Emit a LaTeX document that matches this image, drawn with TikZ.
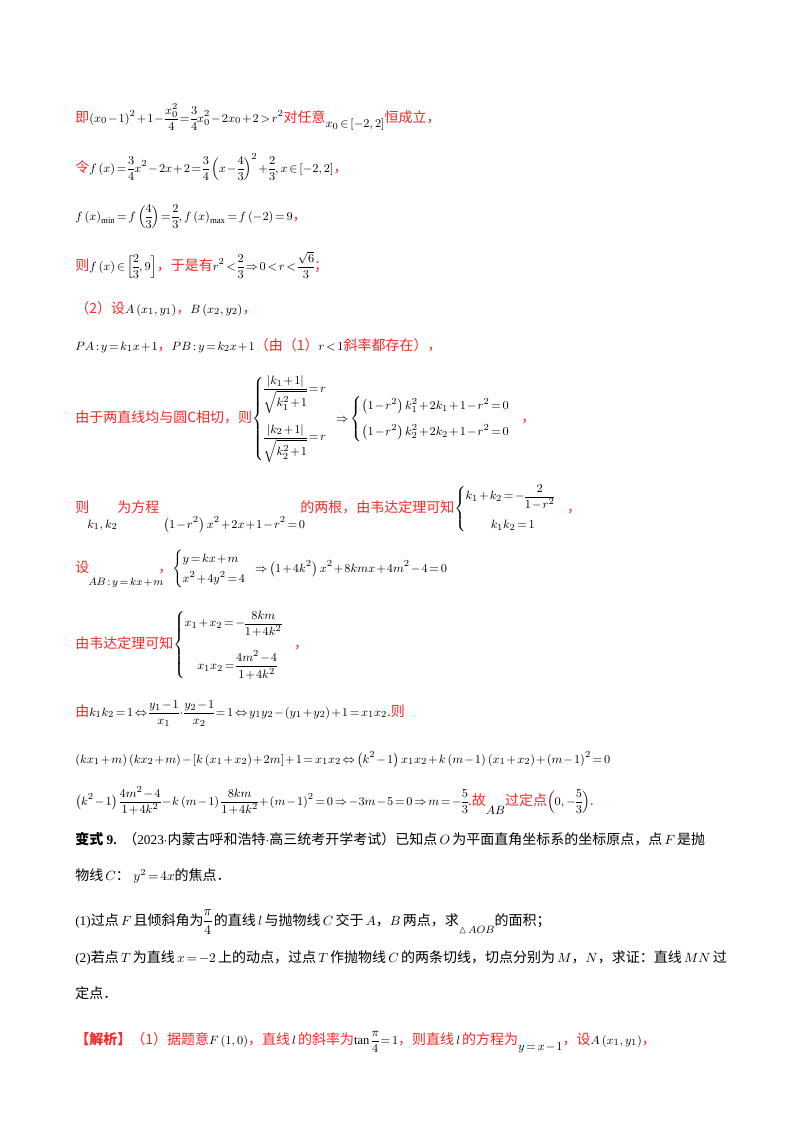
\documentclass[tikz,border=0pt]{standalone}
\usepackage{amsmath,amssymb}
\usepackage{fontspec}
\setmainfont{Liberation Serif}
\newfontfamily\cjk{Noto Sans CJK SC}
\definecolor{zred}{RGB}{250,40,40}
\newcommand{\zr}[1]{{\fontsize{10.5}{13}\selectfont\color{zred}\cjk #1}}
\newcommand{\zh}[1]{{\fontsize{10.5}{13}\selectfont\cjk #1}}
\thickmuskip=2.5mu plus 1mu
\medmuskip=1.5mu plus 1mu
\nulldelimiterspace=0pt
\begin{document}
\begin{tikzpicture}[x=0.75pt,y=-0.75pt,
  ln/.style={anchor=base west,inner sep=0pt,font=\fontsize{9.4}{11}\selectfont}]
\useasboundingbox[fill=white] (0,0) rectangle (800,1132);
\node[ln] (l1) at (75,122) {\zr{即}$\left(x_0-1\right)^2+1-\dfrac{x_0^2}{4}=\dfrac34x_0^2-2x_0+2>r^2$\zr{对任意}\raisebox{-4pt}{$x_0\in\left[-2,2\right]$}\zr{恒成立，}};
\node[ln] (l2) at (75,172) {\zr{令}$f\left(x\right)=\dfrac34x^2-2x+2=\dfrac34\left(x-\dfrac43\right)^2+\dfrac23,x\in\left[-2,2\right]$\zr{，}};
\node[ln] (l3) at (75,220) {$f\left(x\right)_{\min}=f\left(\dfrac43\right)=\dfrac23,f\left(x\right)_{\max}=f\left(-2\right)=9$\zr{，}};
\node[ln] (l4) at (75,270) {\zr{则}$f\left(x\right)\in\left[\dfrac23,9\right]$\zr{，于是有}$r^2<\dfrac23\Rightarrow0<r<\dfrac{\sqrt6}{3}$\zr{；}};
\node[ln] (l5) at (75,313) {\zr{（2）设}$A\left(x_1,y_1\right)$\zr{，}$B\left(x_2,y_2\right)$\zr{，}};
\node[ln] (l6) at (75,350) {$PA:y=k_1x+1$\zr{，}$PB:y=k_2x+1$\zr{（由（1）}$r<1$\zr{斜率都存在），}};
\node[ln] (l7) at (75,422) {\zr{由于两直线均与圆C相切，则}$\begin{cases}\dfrac{\left|k_1+1\right|}{\sqrt{k_1^2+1}}=r\\[20pt] \dfrac{\left|k_2+1\right|}{\sqrt{k_2^2+1}}=r\end{cases}\!\!\Rightarrow\begin{cases}\left(1-r^2\right)k_1^2+2k_1+1-r^2=0\\[6pt] \left(1-r^2\right)k_2^2+2k_2+1-r^2=0\end{cases}$\zr{，}};
\node[ln] (l8a) at (75,512) {\zr{则}};
\node[ln] (l8b) at (87,528) {$k_1,k_2$};
\node[ln] (l8c) at (117,512) {\zr{为方程}};
\node[ln] (l8d) at (163,528) {$\left(1-r^2\right)x^2+2x+1-r^2=0$};
\node[ln] (l8e) at (300,512) {\zr{的两根，由韦达定理可知}$\begin{cases}k_1+k_2=-\dfrac{2}{1-r^2}\\[8pt] \qquad k_1k_2=1\end{cases}$\zr{，}};
\node[ln] (l9a) at (75,572) {\zr{设}};
\node[ln] (l9b) at (88,585) {\footnotesize$AB:y=kx+m$};
\node[ln] (l9c) at (158,572) {\zr{，}$\begin{cases}y=kx+m\\[2pt]x^2+4y^2=4\end{cases}\!\!\Rightarrow\left(1+4k^2\right)x^2+8kmx+4m^2-4=0$};
\node[ln] (l10) at (75,648) {\zr{由韦达定理可知}$\begin{cases}x_1+x_2=-\dfrac{8km}{1+4k^2}\\[14pt] \quad x_1x_2=\dfrac{4m^2-4}{1+4k^2}\end{cases}$\zr{，}};
\node[ln] (l11) at (75,716) {\zr{由}$k_1k_2=1\Leftrightarrow\dfrac{y_1-1}{x_1}\cdot\dfrac{y_2-1}{x_2}=1\Leftrightarrow y_1y_2-\left(y_1+y_2\right)+1=x_1x_2$\zr{.则}};
\node[ln] (l12) at (75,763) {$\left(kx_1+m\right)\left(kx_2+m\right)-\left[k\left(x_1+x_2\right)+2m\right]+1=x_1x_2\Leftrightarrow\left(k^2-1\right)x_1x_2+k\left(m-1\right)\left(x_1+x_2\right)+\left(m-1\right)^2=0$};
\node[ln] (l13) at (75,805) {$\left(k^2-1\right)\dfrac{4m^2-4}{1+4k^2}-k\left(m-1\right)\dfrac{8km}{1+4k^2}+\left(m-1\right)^2=0\Rightarrow-3m-5=0\Rightarrow m=-\dfrac53$\zr{.故}\raisebox{-7pt}{$AB$}\zr{过定点}$\left(0,-\dfrac53\right)$\zr{.}};
\node[ln,font=\fontsize{10}{12}\selectfont] (l14) at (75,844) {\zh{\bfseries 变式}\textbf{ 9.}\ \ \zh{（}2023$\cdot$\zh{内蒙古呼和浩特}$\cdot$\zh{高三统考开学考试）已知点}\,$O$\,\zh{为平面直角坐标系的坐标原点，点}\,$F$\,\zh{是抛}};
\node[ln,font=\fontsize{10}{12}\selectfont] (l15) at (75,880) {\zh{物线}\,$C$\zh{：}\ $y^2=4x$\zh{的焦点．}};
\node[ln,font=\fontsize{10}{12}\selectfont] (l16) at (75,925) {(1)\zh{过点}\,$F$\,\zh{且倾斜角为}$\dfrac{\pi}{4}$\,\zh{的直线}\,$l$\,\zh{与抛物线}\,$C$\,\zh{交于}\,$A$\zh{，}$B$\,\zh{两点，求}\raisebox{-6pt}{\footnotesize$\vartriangle AOB$}\zh{的面积；}};
\node[ln,font=\fontsize{10}{12}\selectfont] (l17) at (75,962) {(2)\zh{若点}\,$T$\,\zh{为直线}\,$x=-2$\,\zh{上的动点，过点}\,$T$\,\zh{作抛物线}\,$C$\,\zh{的两条切线，切点分别为}\,$M$\zh{，}$N$\zh{，求证：直线}\,$MN$\,\zh{过}};
\node[ln] (l18) at (75,998) {\zh{定点．}};
\node[ln] (l19) at (75,1044) {\zr{\bfseries【解析】}\zr{（1）据题意}$F\left(1,0\right)$\zr{，直线}\,$l$\,\zr{的斜率为}$\tan\dfrac{\pi}{4}=1$\zr{，则直线}\,$l$\,\zr{的方程为}\raisebox{-5pt}{$y=x-1$}\zr{，设}$A\left(x_1,y_1\right)$\zr{，}};
\end{tikzpicture}
\end{document}
